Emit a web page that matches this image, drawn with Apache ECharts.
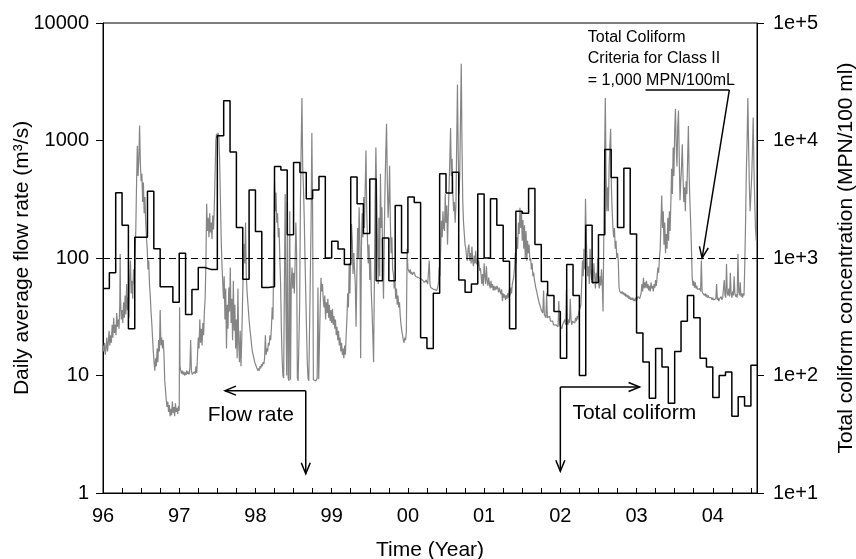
<!DOCTYPE html>
<html>
<head>
<meta charset="utf-8">
<script src="https://cdn.jsdelivr.net/npm/echarts@6/dist/echarts.min.js"></script>
<style>
  html, body { margin: 0; padding: 0; background: #fff; }
  #chart { width: 856px; height: 559px; }
</style>
</head>
<body>
<div id="chart"></div>
<script>
const FONT = '"Liberation Sans", Arial, sans-serif';

// axis ranges
const timeRange = [1996, 2004.58];
const flowRange = [1, 10000];
const coliformRange = [10, 100000];
const criteriaFlow = 100; // dashed line, = 1,000 MPN/100mL on right axis

// monthly total coliform (MPN/100 ml), Jan 1996 .. Jul 2004
const coliformStart = 1996;
const coliformMonthly = [
  550, 750, 3600, 1900, 250, 1500, 1500, 3700, 1200, 570, 570, 420,      // 96
  1100, 330, 540, 830, 800, 800, 11000, 21800, 8000, 1820, 660, 3800,    // 97
  1680, 560, 570, 6000, 5600, 1580, 6500, 5350, 3200, 3800, 4950, 1000,  // 98
  1390, 1190, 880, 4900, 2900, 1620, 4700, 640, 1480, 640, 2800, 1110,   // 99
  3300, 2970, 210, 170, 500, 5200, 3570, 5360, 650, 510, 600, 3500,      // 00
  1000, 3200, 1900, 940, 250, 2500, 2400, 3900, 1300, 630, 480, 350,     // 01
  140, 880, 480, 100, 1900, 620, 1580, 8400, 4850, 1820, 5800, 1600,     // 02
  230, 130, 64, 170, 118, 58, 160, 290, 480, 310, 140, 118,              // 03
  65, 100, 107, 45, 66, 55, 122                                          // 04
];

// daily average flow rate (m3/s)
const flowRate = [
  // 1996
  [1996.00,18],[1996.01,16],[1996.02,19],[1996.03,15],[1996.04,17],[1996.05,21],[1996.06,16],[1996.07,19],[1996.08,24],[1996.09,18],
  [1996.10,22],[1996.11,19],[1996.12,27],[1996.13,21],[1996.14,31],[1996.15,23],[1996.16,27],[1996.17,22],[1996.18,34],[1996.19,26],
  [1996.20,30],[1996.21,25],[1996.22,40],[1996.225,108],[1996.23,45],[1996.24,30],[1996.25,36],[1996.26,28],[1996.27,42],[1996.28,31],[1996.29,48],
  [1996.30,33],[1996.31,60],[1996.32,36],[1996.33,46],[1996.34,31],[1996.35,70],[1996.36,95],[1996.37,50],[1996.38,64],[1996.39,45],
  [1996.40,80],[1996.41,60],[1996.42,110],[1996.43,170],[1996.44,420],[1996.45,900],[1996.46,500],[1996.47,700],[1996.48,1340],[1996.49,650],
  [1996.50,450],[1996.51,520],[1996.52,300],[1996.53,440],[1996.54,240],[1996.55,330],[1996.56,200],[1996.57,150],[1996.58,120],[1996.59,80],
  [1996.60,95],[1996.61,60],[1996.62,48],[1996.63,35],[1996.64,28],[1996.65,21],[1996.66,16],[1996.67,13],[1996.68,11],[1996.69,14],
  [1996.70,12],[1996.71,17],[1996.72,13],[1996.73,20],[1996.74,16],[1996.75,36],[1996.76,18],[1996.77,21],[1996.78,17],[1996.79,20],
  [1996.80,15],[1996.81,9],[1996.82,7.5],[1996.83,6.2],[1996.84,5.4],[1996.85,6],[1996.86,4.9],[1996.87,5.6],[1996.88,4.5],[1996.89,5.2],
  [1996.90,4.6],[1996.91,6],[1996.92,4.8],[1996.93,5.4],[1996.94,4.5],[1996.95,5.8],[1996.96,4.9],[1996.97,5.3],[1996.98,4.7],[1996.99,5.5],
  // 1997
  [1997.00,5.0],[1997.005,38],[1997.01,12],[1997.02,11],[1997.03,10.4],[1997.04,11],[1997.05,10.2],[1997.06,10.8],[1997.07,10],[1997.08,10.6],[1997.09,10.1],
  [1997.10,11],[1997.11,10.3],[1997.12,10.8],[1997.13,10.2],[1997.14,11.5],[1997.15,20],[1997.16,11],[1997.17,10.2],[1997.18,10.6],[1997.19,10],
  [1997.20,10.8],[1997.21,10.3],[1997.22,12],[1997.23,10.5],[1997.24,15],[1997.25,21],[1997.26,17],[1997.27,30],[1997.28,19],[1997.29,25],
  [1997.30,18],[1997.31,28],[1997.32,22],[1997.33,35],[1997.34,45],[1997.35,90],[1997.36,290],[1997.37,170],[1997.38,220],[1997.39,150],
  [1997.40,240],[1997.41,165],[1997.42,200],[1997.43,145],[1997.44,230],[1997.45,175],[1997.46,270],[1997.47,500],[1997.48,1000],[1997.49,1140],
  [1997.50,1050],[1997.51,1160],[1997.52,1080],[1997.53,700],[1997.54,320],[1997.55,150],[1997.56,90],[1997.57,64],[1997.58,45],[1997.59,70],
  [1997.60,30],[1997.61,55],[1997.62,17],[1997.63,40],[1997.64,25],[1997.65,56],[1997.66,35],[1997.67,83],[1997.68,28],[1997.69,45],
  [1997.70,20],[1997.71,64],[1997.72,24],[1997.73,40],[1997.74,17],[1997.75,30],[1997.76,14],[1997.77,55],[1997.78,19],[1997.79,13],
  [1997.80,24],[1997.81,12],[1997.82,20],[1997.83,40],[1997.84,80],[1997.85,132],[1997.86,90],[1997.87,200],[1997.88,70],[1997.89,52],
  [1997.90,42],[1997.91,34],[1997.92,28],[1997.93,24],[1997.94,21],[1997.95,18],[1997.96,16],[1997.97,15],[1997.98,14],[1997.99,13],
  // 1998
  [1998.00,12.5],[1998.01,12],[1998.02,11.5],[1998.03,11],[1998.04,11.5],[1998.05,11],[1998.06,12],[1998.07,11.5],[1998.08,12.5],[1998.09,12],
  [1998.10,13],[1998.11,12.5],[1998.12,14],[1998.13,22],[1998.14,15],[1998.15,17],[1998.16,16],[1998.17,19],[1998.18,18],[1998.19,22],
  [1998.20,20],[1998.21,26],[1998.22,38],[1998.23,30],[1998.24,120],[1998.25,450],[1998.26,250],[1998.27,360],[1998.28,200],[1998.29,240],
  [1998.30,150],[1998.31,180],[1998.32,100],[1998.33,60],[1998.34,25],[1998.35,14],[1998.36,10],[1998.37,9.5],[1998.38,60],[1998.39,350],
  [1998.40,40],[1998.41,10],[1998.42,300],[1998.43,9.5],[1998.44,9],[1998.45,250],[1998.46,9.2],[1998.47,60],[1998.48,83],[1998.49,55],
  [1998.50,75],[1998.51,50],[1998.52,90],[1998.53,200],[1998.54,110],[1998.55,9.5],[1998.56,9],[1998.57,9.2],[1998.58,40],[1998.59,300],
  [1998.60,900],[1998.61,2300],[1998.62,600],[1998.63,400],[1998.64,220],[1998.65,100],[1998.66,50],[1998.67,25],[1998.68,13],[1998.69,9.5],
  [1998.70,9],[1998.71,9.3],[1998.72,9],[1998.73,200],[1998.74,1160],[1998.75,250],[1998.76,9.2],[1998.77,9],[1998.78,9.3],[1998.79,9],
  [1998.80,9.2],[1998.81,9.5],[1998.82,56],[1998.83,9.3],[1998.84,9],[1998.85,40],[1998.86,68],[1998.87,52],[1998.88,60],[1998.89,44],
  [1998.90,38],[1998.91,48],[1998.92,30],[1998.93,42],[1998.94,34],[1998.95,45],[1998.96,31],[1998.97,40],[1998.98,29],[1998.99,36],
  // 1999
  [1999.00,28],[1999.01,37],[1999.02,27],[1999.03,32],[1999.04,25],[1999.05,30],[1999.06,22],[1999.07,26],[1999.08,20],[1999.09,24],
  [1999.10,18],[1999.11,21],[1999.12,16],[1999.13,19],[1999.14,15],[1999.15,17],[1999.16,14],[1999.17,18],[1999.18,15],[1999.19,22],
  [1999.20,30],[1999.21,50],[1999.22,38],[1999.23,90],[1999.24,50],[1999.25,120],[1999.26,195],[1999.27,140],[1999.28,73],[1999.29,110],
  [1999.30,80],[1999.31,60],[1999.32,26],[1999.33,70],[1999.34,180],[1999.35,100],[1999.36,270],[1999.37,140],[1999.38,14],[1999.39,120],
  [1999.40,240],[1999.41,150],[1999.42,330],[1999.43,180],[1999.44,400],[1999.45,820],[1999.46,250],[1999.47,140],[1999.48,90],[1999.49,130],
  [1999.50,65],[1999.51,100],[1999.52,50],[1999.53,35],[1999.54,22],[1999.55,13],[1999.56,60],[1999.57,300],[1999.58,870],[1999.59,350],
  [1999.60,150],[1999.61,60],[1999.62,220],[1999.63,70],[1999.64,520],[1999.65,180],[1999.66,270],[1999.67,90],[1999.68,45],[1999.69,150],
  [1999.70,400],[1999.71,800],[1999.72,1390],[1999.73,450],[1999.74,220],[1999.75,300],[1999.76,610],[1999.77,200],[1999.78,110],[1999.79,150],
  [1999.80,80],[1999.81,73],[1999.82,55],[1999.83,65],[1999.84,45],[1999.85,55],[1999.86,40],[1999.87,48],[1999.88,38],[1999.89,42],
  [1999.90,32],[1999.91,27],[1999.92,24],[1999.93,22],[1999.94,20],[1999.95,19],[1999.96,21],[1999.97,20],[1999.98,24],[1999.99,120],
  // 2000
  [2000.00,82],[2000.01,78],[2000.02,75],[2000.03,80],[2000.04,73],[2000.05,76],[2000.06,72],[2000.08,76],[2000.10,70],[2000.12,72],
  [2000.14,68],[2000.16,70],[2000.18,66],[2000.20,64],[2000.22,62],[2000.24,65],[2000.26,60],[2000.27,58],[2000.28,95],[2000.29,60],
  [2000.30,56],[2000.32,58],[2000.34,54],[2000.36,56],[2000.38,53],[2000.40,60],[2000.41,83],[2000.42,70],[2000.43,120],[2000.44,207],
  [2000.45,150],[2000.46,250],[2000.47,180],[2000.48,170],[2000.49,350],[2000.50,200],[2000.51,280],[2000.52,130],[2000.53,240],[2000.54,400],
  [2000.55,700],[2000.56,1280],[2000.57,500],[2000.58,700],[2000.59,350],[2000.60,250],[2000.61,300],[2000.62,200],[2000.63,280],[2000.64,900],
  [2000.65,3000],[2000.66,800],[2000.67,350],[2000.68,500],[2000.69,1500],[2000.70,4500],[2000.71,900],[2000.72,300],[2000.73,200],[2000.74,160],
  [2000.75,130],[2000.76,120],[2000.77,100],[2000.78,95],[2000.79,120],[2000.80,130],[2000.81,95],[2000.82,110],[2000.83,90],[2000.84,125],
  [2000.85,95],[2000.86,85],[2000.87,105],[2000.88,90],[2000.89,115],[2000.90,88],[2000.91,100],[2000.92,85],[2000.93,95],[2000.94,78],
  [2000.95,82],[2000.96,72],[2000.97,60],[2000.98,73],[2000.99,58],
  // 2001
  [2001.00,90],[2001.01,70],[2001.02,60],[2001.03,85],[2001.04,65],[2001.05,58],[2001.06,68],[2001.07,60],[2001.08,55],[2001.09,64],
  [2001.10,56],[2001.11,60],[2001.12,53],[2001.13,58],[2001.14,53],[2001.15,57],[2001.16,54],[2001.17,58],[2001.18,55],[2001.19,51],
  [2001.20,56],[2001.21,52],[2001.22,49],[2001.23,54],[2001.24,43],[2001.25,50],[2001.26,46],[2001.27,49],[2001.28,44],[2001.29,48],
  [2001.30,45],[2001.31,50],[2001.32,46],[2001.33,54],[2001.34,48],[2001.35,56],[2001.36,50],[2001.37,60],[2001.38,62],[2001.39,70],
  [2001.40,85],[2001.41,110],[2001.42,90],[2001.43,150],[2001.44,120],[2001.45,200],[2001.46,160],[2001.47,267],[2001.48,180],[2001.49,250],
  [2001.50,140],[2001.51,210],[2001.52,120],[2001.53,190],[2001.54,100],[2001.55,170],[2001.56,95],[2001.57,140],[2001.58,110],[2001.59,130],
  [2001.60,95],[2001.61,100],[2001.62,80],[2001.63,90],[2001.64,70],[2001.65,75],[2001.66,65],[2001.67,60],[2001.68,55],[2001.69,52],
  [2001.70,48],[2001.71,45],[2001.72,42],[2001.73,40],[2001.74,38],[2001.75,36],[2001.76,35],[2001.77,34],[2001.78,53],[2001.79,33],
  [2001.80,32],[2001.81,31],[2001.82,50],[2001.83,31],[2001.84,30],[2001.85,30],[2001.86,32],[2001.87,29],[2001.88,30],[2001.89,28],
  [2001.90,29],[2001.91,27],[2001.92,28],[2001.93,26],[2001.94,27],[2001.95,26],[2001.96,28],[2001.97,26],[2001.98,43],[2001.99,27],
  // 2002
  [2002.00,26],[2002.01,28],[2002.02,25],[2002.03,27],[2002.04,26],[2002.05,28],[2002.06,30],[2002.07,27],[2002.08,54],[2002.09,29],
  [2002.10,27],[2002.11,30],[2002.12,28],[2002.13,45],[2002.14,30],[2002.15,27],[2002.16,29],[2002.17,28],[2002.18,30],[2002.19,28],
  [2002.20,31],[2002.21,29],[2002.22,32],[2002.23,30],[2002.24,34],[2002.25,36],[2002.26,38],[2002.27,40],[2002.28,60],[2002.29,95],
  [2002.30,70],[2002.31,120],[2002.32,80],[2002.33,320],[2002.34,150],[2002.35,95],[2002.36,70],[2002.37,85],[2002.38,60],[2002.39,120],
  [2002.40,75],[2002.41,65],[2002.42,80],[2002.43,60],[2002.44,90],[2002.45,70],[2002.46,55],[2002.47,75],[2002.48,60],[2002.49,100],
  [2002.50,65],[2002.51,55],[2002.52,70],[2002.53,58],[2002.54,80],[2002.55,60],[2002.56,35],[2002.57,150],[2002.58,700],[2002.59,2300],
  [2002.60,500],[2002.61,250],[2002.62,400],[2002.63,250],[2002.64,600],[2002.65,900],[2002.66,1260],[2002.67,400],[2002.68,250],[2002.69,180],
  [2002.70,150],[2002.71,180],[2002.72,120],[2002.73,140],[2002.74,100],[2002.75,110],[2002.76,95],[2002.77,56],[2002.78,52],[2002.79,54],
  [2002.80,50],[2002.81,52],[2002.82,49],[2002.83,51],[2002.84,48],[2002.85,50],[2002.86,47],[2002.87,49],[2002.88,46],[2002.89,48],
  [2002.90,45],[2002.91,47],[2002.92,44],[2002.93,46],[2002.94,44],[2002.95,46],[2002.96,43],[2002.97,45],[2002.98,43],[2002.99,46],
  // 2003
  [2003.00,44],[2003.02,47],[2003.04,45],[2003.06,50],[2003.07,60],[2003.08,52],[2003.09,68],[2003.10,55],[2003.11,62],[2003.12,56],
  [2003.13,64],[2003.14,55],[2003.15,60],[2003.16,53],[2003.17,58],[2003.18,52],[2003.19,62],[2003.20,55],[2003.21,58],[2003.22,52],
  [2003.23,60],[2003.24,56],[2003.25,65],[2003.26,58],[2003.27,70],[2003.28,83],[2003.29,75],[2003.30,100],[2003.31,120],[2003.32,200],
  [2003.33,340],[2003.34,180],[2003.35,250],[2003.36,130],[2003.37,200],[2003.38,110],[2003.39,160],[2003.40,120],[2003.41,220],[2003.42,140],
  [2003.43,250],[2003.44,170],[2003.45,300],[2003.46,575],[2003.47,350],[2003.48,870],[2003.49,500],[2003.50,1200],[2003.51,1850],[2003.52,900],
  [2003.53,600],[2003.54,1300],[2003.55,1800],[2003.56,700],[2003.57,310],[2003.58,450],[2003.59,600],[2003.60,930],[2003.61,480],[2003.62,300],
  [2003.63,400],[2003.64,250],[2003.65,450],[2003.66,350],[2003.67,700],[2003.68,1330],[2003.69,500],[2003.70,300],[2003.71,200],[2003.72,120],
  [2003.73,68],[2003.74,58],[2003.75,64],[2003.76,56],[2003.77,62],[2003.78,55],[2003.79,58],[2003.80,54],[2003.81,56],[2003.82,53],
  [2003.83,55],[2003.84,52],[2003.85,95],[2003.86,52],[2003.87,50],[2003.88,51],[2003.89,48],[2003.90,50],[2003.91,47],[2003.92,49],
  [2003.93,46],[2003.94,48],[2003.95,46],[2003.96,47],[2003.97,45],[2003.98,46],[2003.99,44],
  // 2004
  [2004.00,46],[2004.01,44],[2004.02,45],[2004.03,43],[2004.04,45],[2004.05,60],[2004.06,44],[2004.07,46],[2004.08,43],[2004.09,45],
  [2004.10,44],[2004.11,47],[2004.12,44],[2004.13,46],[2004.14,45],[2004.15,65],[2004.16,48],[2004.17,46],[2004.18,89],[2004.19,50],
  [2004.20,48],[2004.21,55],[2004.22,47],[2004.23,75],[2004.24,50],[2004.25,46],[2004.26,52],[2004.27,48],[2004.28,70],[2004.29,50],
  [2004.30,47],[2004.31,49],[2004.32,46],[2004.33,108],[2004.34,52],[2004.35,48],[2004.36,62],[2004.37,47],[2004.38,50],[2004.39,46],
  [2004.40,50],[2004.41,48],[2004.42,90],[2004.43,200],[2004.44,540],[2004.45,1000],[2004.46,2300],[2004.47,900],[2004.48,400],[2004.49,250],
  [2004.50,350],[2004.51,480],[2004.52,800],[2004.53,1570],[2004.54,600],[2004.55,300],[2004.56,180],[2004.57,140]
];

// annotation anchors in data units [year, flow]
const flowArrow = { corner: [1998.66, 7.43], left: [1997.60, 7.43], down: [1998.66, 1.46], label: [1997.94, 4.55] };
const coliformArrow = { corner: [2002.0, 7.99], right: [2003.04, 7.99], down: [2002.0, 1.53], label: [2002.97, 4.82] };
const criteriaNote = {
  lines: ['Total Coliform', 'Criteria for Class II', '= 1,000 MPN/100mL'],
  textAt: [2002.36, 7560],
  underline: [[2003.117, 2690], [2004.217, 2690]],
  tip: [2003.86, 100]
};

const chart = echarts.init(document.getElementById('chart'));

// build the monthly step line
const coliformSteps = coliformMonthly.map((v, i) => [coliformStart + i / 12, v]);
coliformSteps.push([timeRange[1], coliformMonthly[coliformMonthly.length - 1]]);

const isYear = v => Math.abs(v - Math.round(v)) < 1e-6;

const option = {
  animation: false,
  backgroundColor: '#fff',
  grid: {
    left: 103, right: 99, top: 23, bottom: 66,
    containLabel: false,
    outerBoundsMode: 'none',
    show: true, borderColor: '#000', borderWidth: 1
  },
  xAxis: {
    type: 'value',
    min: timeRange[0],
    max: timeRange[1],
    interval: 0.25,
    name: 'Time (Year)',
    nameLocation: 'middle',
    nameGap: 47,
    nameMoveOverlap: false,
    nameTextStyle: { fontSize: 21, color: '#000', fontFamily: FONT },
    axisLine: { lineStyle: { color: '#000', width: 1 } },
    axisTick: { inside: true, length: 5, lineStyle: { color: '#000' } },
    axisLabel: {
      fontSize: 20, color: '#000', fontFamily: FONT, margin: 13,
      showMaxLabel: false,
      formatter: v => isYear(v) ? String(Math.round(v) % 100).padStart(2, '0') : ''
    },
    splitLine: { show: false }
  },
  yAxis: [
    {
      type: 'log',
      logBase: 10,
      min: flowRange[0],
      max: flowRange[1],
      name: 'Daily average flow rate (m³/s)',
      nameLocation: 'middle',
      nameRotate: 90,
      nameGap: 70,
      nameMoveOverlap: false,
      nameTextStyle: { fontSize: 21, color: '#000', fontFamily: FONT },
      axisLine: { show: true, lineStyle: { color: '#000', width: 1 } },
      axisTick: { show: true, inside: false, length: 7, lineStyle: { color: '#000' } },
      axisLabel: { fontSize: 20, color: '#000', fontFamily: FONT, margin: 14,
        formatter: v => String(Math.round(v)) },
      minorTick: { show: false },
      splitLine: { show: false }
    },
    {
      type: 'log',
      logBase: 10,
      min: coliformRange[0],
      max: coliformRange[1],
      position: 'right',
      name: 'Total coliform concentration (MPN/100 ml)',
      nameLocation: 'middle',
      nameRotate: 90,
      nameGap: 79,
      nameMoveOverlap: false,
      nameTextStyle: { fontSize: 21, color: '#000', fontFamily: FONT },
      axisLine: { show: true, lineStyle: { color: '#000', width: 1 } },
      axisTick: { show: true, inside: false, length: 7, lineStyle: { color: '#000' } },
      axisLabel: { fontSize: 20, color: '#000', fontFamily: FONT, margin: 16,
        formatter: v => '1e+' + Math.round(Math.log10(v)) },
      splitLine: { show: false }
    }
  ],
  series: [
    {
      name: 'Flow rate',
      type: 'line',
      yAxisIndex: 0,
      data: flowRate,
      showSymbol: false,
      symbol: 'none',
      lineStyle: { color: '#858585', width: 1.2 },
      markLine: {
        silent: true,
        symbol: 'none',
        label: { show: false },
        lineStyle: { color: '#000', type: [7, 4], width: 1 },
        data: [{ yAxis: criteriaFlow }]
      },
      z: 2
    },
    {
      name: 'Total coliform',
      type: 'line',
      yAxisIndex: 1,
      step: 'end',
      data: coliformSteps,
      showSymbol: false,
      symbol: 'none',
      lineStyle: { color: '#000', width: 1.5 },
      z: 3
    }
  ]
};

chart.setOption(option);

// annotations: arrows and labels placed from data coordinates
const px = p => chart.convertToPixel({ xAxisIndex: 0, yAxisIndex: 0 }, p);

function chevron(tip, from, len, half) {
  const dx = tip[0] - from[0], dy = tip[1] - from[1];
  const d = Math.hypot(dx, dy) || 1;
  const ux = dx / d, uy = dy / d;
  const bx = tip[0] - ux * len, by = tip[1] - uy * len;
  return [[bx - uy * half, by + ux * half], tip, [bx + uy * half, by - ux * half]];
}

const stroke = { stroke: '#000', lineWidth: 1.5, fill: null };
function seg(a, b) {
  return { type: 'line', shape: { x1: a[0], y1: a[1], x2: b[0], y2: b[1] }, style: stroke, z: 10 };
}
function head(tip, from) {
  return { type: 'polyline', shape: { points: chevron(tip, from, 11, 4.5) }, style: stroke, z: 10 };
}
function label(text, p, size, align) {
  return {
    type: 'text', x: p[0], y: p[1], z: 10,
    style: {
      text: text, font: size + 'px ' + FONT, fill: '#000',
      align: align, verticalAlign: 'middle',
      textAlign: align, textVerticalAlign: 'middle'
    }
  };
}

const g = [];
// flow rate arrow: points left and down
{
  const c = px(flowArrow.corner), l = px(flowArrow.left), d = px(flowArrow.down);
  g.push(seg(c, l), head(l, c), seg(c, d), head(d, c));
  g.push(label('Flow rate', px(flowArrow.label), 21, 'center'));
}
// total coliform arrow: points right and down
{
  const c = px(coliformArrow.corner), r = px(coliformArrow.right), d = px(coliformArrow.down);
  g.push(seg(c, r), head(r, c), seg(c, d), head(d, c));
  g.push(label('Total coliform', px(coliformArrow.label), 21, 'center'));
}
// criteria note
{
  const t = px(criteriaNote.textAt);
  criteriaNote.lines.forEach((s, i) => g.push(label(s, [t[0], t[1] + i * 21.7], 16, 'left')));
  const u0 = px(criteriaNote.underline[0]), u1 = px(criteriaNote.underline[1]);
  const tip = px(criteriaNote.tip);
  g.push(seg(u0, u1), seg(u1, tip), head(tip, u1));
}

chart.setOption({ graphic: g });
</script>
</body>
</html>
